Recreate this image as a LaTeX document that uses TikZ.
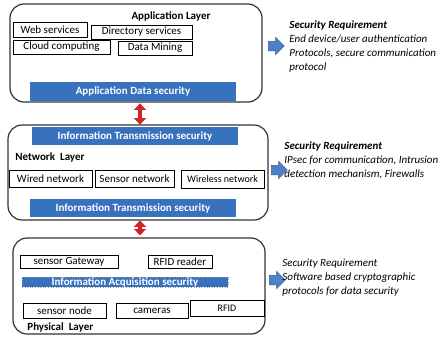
\documentclass[tikz,border=0pt]{standalone}
\usepackage{fontspec}
\setmainfont{Carlito}
\usetikzlibrary{positioning,shapes.arrows,arrows.meta}
\definecolor{barblue}{RGB}{56,114,190}
\definecolor{sideblue}{RGB}{79,129,200}
\definecolor{linkred}{RGB}{210,36,36}
\begin{document}
\begin{tikzpicture}[x=1pt,y=-1pt,thick,
    layer box/.style={draw=black!80,line width=1.2pt,rounded corners=14pt,inner sep=0pt},
    item/.style={draw,line width=0.9pt,inner sep=0pt,font=\fontsize{11}{12}\selectfont},
    sec bar/.style={fill=barblue,text=white,inner sep=0pt,minimum width=206pt,minimum height=18pt,font=\fontsize{11}{12}\selectfont\bfseries},
    layer title/.style={font=\fontsize{11}{12}\selectfont\bfseries,inner sep=0pt},
    req text/.style={align=left,inner sep=0pt,font=\fontsize{11}{13.8}\selectfont\itshape},
    side arrow/.style={single arrow,fill=sideblue,draw=sideblue!70!black,line width=0.5pt,inner xsep=0pt,inner ysep=4.5pt,minimum height=16pt,single arrow head extend=4pt,single arrow head indent=0pt},
    red link/.style={linkred,line width=4.5pt,{Triangle[width=12pt,length=6.5pt]}-{Triangle[width=12pt,length=6.5pt]}}]
\useasboundingbox (0,0) rectangle (441,338);
% application layer
\node[layer box,minimum width=252pt,minimum height=98pt] (app) at (136,53) {};
\node[layer title] (apptitle) at (171,16) {Application Layer};
\node[item,minimum width=74pt,minimum height=15pt] (web) at (50,29.5) {Web services};
\node[item,minimum width=101pt,minimum height=14pt] (dir) at (141.5,32) {Directory services};
\node[item,minimum width=97pt,minimum height=14pt] (cloud) at (61.5,47) {Cloud computing};
\node[item,minimum width=74pt,minimum height=14pt] (mining) at (155,48) {Data Mining};
\node[sec bar,minimum height=19pt] (appsec) at (133,91.5) {Application Data security};
% network layer
\node[layer box,minimum width=260pt,minimum height=95pt] (net) at (138,172.5) {};
\node[sec bar] (nettop) at (135,136) {Information Transmission security};
\node[layer title,anchor=west] (nettitle) at (15,157) {Network\ \ Layer};
\node[item,minimum width=83pt,minimum height=17pt] (wired) at (50.5,178.5) {Wired network};
\node[item,minimum width=79pt,minimum height=17pt] (sensornet) at (134.5,178.5) {Sensor network};
\node[item,minimum width=83pt,minimum height=18pt,font=\fontsize{10}{12}\selectfont] (wireless) at (222.5,179) {Wireless network};
\node[sec bar] (netbot) at (133,208) {Information Transmission security};
% physical layer
\node[layer box,minimum width=252pt,minimum height=96pt] (phy) at (139,286) {};
\node[item,minimum width=98pt,minimum height=13pt] (gateway) at (69,261.5) {sensor Gateway};
\node[item,minimum width=64pt,minimum height=13pt] (reader) at (180,261.5) {RFID reader};
\node[sec bar,minimum height=10pt,draw=black!40,dotted,line width=0.6pt] (acq) at (125,282) {Information Acquisition security};
\node[item,minimum width=83pt,minimum height=15pt] (sensornode) at (64.5,310.5) {sensor node};
\node[item,minimum width=72pt,minimum height=15pt] (cameras) at (152,310.5) {cameras};
\node[item,minimum width=74pt,minimum height=16pt,font=\fontsize{10}{12}\selectfont] (rfid) at (227,308) {RFID};
\node[layer title,anchor=west] (phytitle) at (27,327) {Physical\ \ Layer};
% links between layers
\draw[red link] ([xshift=7pt,yshift=-2pt]appsec.south) -- ([xshift=5pt,yshift=2pt]nettop.north);
\draw[red link] ([xshift=7pt,yshift=-3pt]netbot.south) -- ([xshift=1pt,yshift=2pt]phy.north);
% security requirements
\node[side arrow] (appreq) at (274,46) {};
\node[req text,anchor=north west] (apptext) at (289,20.5) {\textbf{Security Requirement}\\End device/user authentication\\Protocols, secure communication\\protocol};
\node[side arrow] (netreq) at (277,170) {};
\node[req text,anchor=north west] (nettext) at (284,141.5) {\textbf{Security Requirement}\\IPsec for communication, Intrusion\\detection mechanism, Firewalls};
\node[side arrow] (phyreq) at (275,280) {};
\node[req text,anchor=north west] (phytext) at (282,258.5) {Security Requirement\\Software based cryptographic\\protocols for data security};
\end{tikzpicture}
\end{document}
